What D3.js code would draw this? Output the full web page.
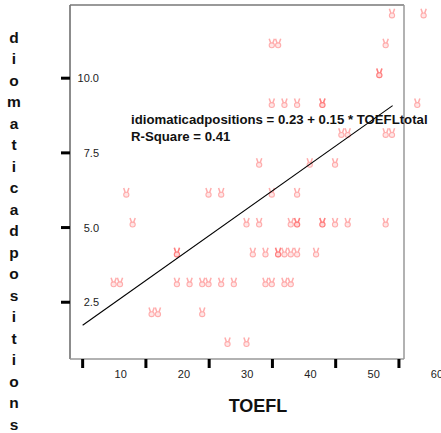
<!DOCTYPE html>
<html><head><meta charset="utf-8">
<script src="https://cdn.jsdelivr.net/npm/d3@7"></script>
<style>body{margin:0;background:#fff}svg{display:block}</style>
</head><body>
<script>
// ---- data ----
const toefl = [28,31, 16,17,24, 10,11,20,22,24,25,27,29,34,35,37,38,
  20,20,32,34,36,36,37,38,39,42, 13,31,33,38,39,39,43,43,45,47,53,
  12,25,27,35,39, 33,41,45, 46,47,53,54, 35,37,39,43,43,58, 52,52, 35,36,53, 54,59];
const idiom = [1,1, 2,2,2, 3,3,3,3,3,3,3,3,3,3,3,3,
  4,4,4,4,4,4,4,4,4,4, 5,5,5,5,5,5,5,5,5,5,5,
  6,6,6,6,6, 7,7,7, 8,8,8,8, 9,9,9,9,9,9, 10,10, 11,11,11, 12,12];
const xTicks = [10,20,30,40,50,60];
const yTicks = [2.5,5.0,7.5,10.0];
const fitIntercept = 0.23, fitSlope = 0.15;
const fitText = "idiomaticadpositions = 0.23 + 0.15 * TOEFLtotal";
const r2Text = "R-Square = 0.41";
const xTitle = "TOEFL";
const yTitle = "idiomaticadpositions";

const W = 441, H = 433;
const L = 70, R = 404, T = 5, B = 359;
const svg = d3.select("body").append("svg").attr("width", W).attr("height", H);
const x = d3.scaleLinear().domain([8.0, 60.8]).range([L, R]);
const y = d3.scaleLinear().domain([0.6, 12.45]).range([B, T]);
const font = "Arial, 'Liberation Sans', sans-serif";

// frame
svg.append("line").attr("x1",L).attr("x2",L).attr("y1",T).attr("y2",B).attr("stroke","#666").attr("stroke-width",1.5);
svg.append("line").attr("x1",L).attr("x2",R).attr("y1",T).attr("y2",T).attr("stroke","#777").attr("stroke-width",1.5);
svg.append("line").attr("x1",R).attr("x2",R).attr("y1",T).attr("y2",B).attr("stroke","#999").attr("stroke-width",1.5);
svg.append("line").attr("x1",L).attr("x2",R).attr("y1",B).attr("y2",B).attr("stroke","#999").attr("stroke-width",1.5);

// x ticks
const xt = svg.append("g");
xt.selectAll("line").data(xTicks).join("line")
  .attr("x1", d=>x(d)).attr("x2", d=>x(d)).attr("y1", B).attr("y2", B+9)
  .attr("stroke","#000").attr("stroke-width",3);
xt.selectAll("text").data(xTicks).join("text")
  .attr("x", d=>x(d)+38).attr("y", B+19).attr("text-anchor","middle")
  .attr("font-family",font).attr("font-size",11).attr("fill","#222").text(d=>d);

// y ticks
const yt = svg.append("g");
yt.selectAll("line").data(yTicks).join("line")
  .attr("x1", L-9).attr("x2", L).attr("y1", d=>y(d)).attr("y2", d=>y(d))
  .attr("stroke","#000").attr("stroke-width",3);
yt.selectAll("text").data(yTicks).join("text")
  .attr("x", 99).attr("y", d=>y(d)).attr("dy","0.36em").attr("text-anchor","end")
  .attr("font-family",font).attr("font-size",11).attr("fill","#222").text(d=>d.toFixed(1));

// points (hand-shaped markers, drawn offset like the source)
const mk = svg.append("g").selectAll("g").data(toefl.map((t,i)=>[t,idiom[i]])).join("g")
  .attr("transform", d=>`translate(${x(d[0])+31},${y(d[1])-5})`)
  .attr("opacity",0.45);
mk.append("path").attr("d","M-2.6,-4.6L-0.9,0.2M2.6,-4.6L0.9,0.2")
  .attr("stroke","#ff4a4a").attr("stroke-width",1.5).attr("fill","none");
mk.append("ellipse").attr("cx",0).attr("cy",2).attr("rx",2.6).attr("ry",2.4)
  .attr("stroke","#ff4a4a").attr("stroke-width",1.1).attr("fill","#ffc8c8");

// fit line
const ext = d3.extent(toefl);
svg.append("path").datum(ext)
  .attr("d", d3.line().x(d=>x(d)).y(d=>y(fitIntercept+fitSlope*d)))
  .attr("stroke","#000").attr("stroke-width",1.1).attr("fill","none");

// annotation
svg.append("text").attr("x",131).attr("y",124).attr("font-family",font).attr("font-weight","bold")
  .attr("font-size",13.2).attr("fill","#111").text(fitText);
svg.append("text").attr("x",131).attr("y",141).attr("font-family",font).attr("font-weight","bold")
  .attr("font-size",13.2).attr("fill","#111").text(r2Text);

// x title
svg.append("text").attr("x",258).attr("y",412).attr("text-anchor","middle")
  .attr("font-family",font).attr("font-weight","bold").attr("font-size",18).attr("fill","#111").text(xTitle);

// y title (stacked letters, top letter clipped as in the source)
svg.append("clipPath").attr("id","yc").append("rect").attr("x",0).attr("y",26).attr("width",40).attr("height",H);
svg.append("g").attr("clip-path","url(#yc)").selectAll("text").data(yTitle.split("")).join("text")
  .attr("x",14).attr("y",(d,i)=>15.6+i*21.5).attr("dy","0.36em").attr("text-anchor","middle")
  .attr("font-family",font).attr("font-weight","bold").attr("font-size",15.5).attr("fill","#111").text(d=>d);
</script>
</body></html>
